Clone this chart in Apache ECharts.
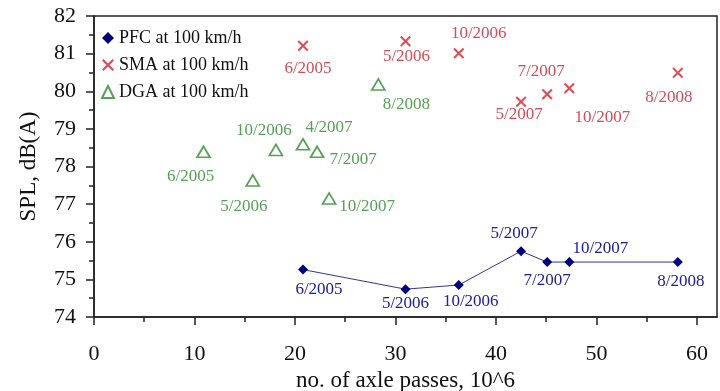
<!DOCTYPE html>
<html>
<head>
<meta charset="utf-8">
<script src="https://cdn.jsdelivr.net/npm/echarts@6/dist/echarts.min.js"></script>
<style>
  html, body { margin: 0; padding: 0; background: #fff; }
  #chart { width: 720px; height: 391px; }
</style>
</head>
<body>
<div id="chart"></div>
<script>
// values: x = axle passes (10^6), y = SPL dB(A)
var pfcDates = ['6/2005', '5/2006', '10/2006', '5/2007', '7/2007', '10/2007', '8/2008'];
var pfcX = [20.8, 31.0, 36.3, 42.5, 45.1, 47.3, 58.1];
var pfcY = [75.26, 74.74, 74.85, 75.75, 75.46, 75.46, 75.46];

var smaDates = ['6/2005', '5/2006', '10/2006', '5/2007', '7/2007', '10/2007', '8/2008'];
var smaX = [20.8, 31.0, 36.3, 42.5, 45.1, 47.3, 58.1];
var smaY = [81.21, 81.33, 81.01, 79.72, 79.92, 80.08, 80.49];

var dgaDates = ['6/2005', '5/2006', '10/2006', '4/2007', '7/2007', '10/2007', '8/2008'];
var dgaX = [10.9, 15.8, 18.1, 20.8, 22.2, 23.4, 28.3];
var dgaY = [78.39, 77.63, 78.44, 78.59, 78.39, 77.15, 80.18];

var seriesNames = ['PFC at 100 km/h', 'SMA at 100 km/h', 'DGA at 100 km/h'];
var xTickLabels = [0, 10, 20, 30, 40, 50, 60];
var xMinorTicks = [5, 15, 25, 35, 45, 55];

// label placement (px offsets from the marker), kept apart from the data
var pfcLabelOff = [[16, 20], [0, 14], [12, 17], [-7, -18], [0, 18], [31, -14], [3, 19]];
var smaLabelOff = [[5, 23], [1, 15], [20, -20], [-2, 13], [-6, -23], [33, 29], [-9, 25]];
var dgaLabelOff = [[-13, 25], [-9, 26], [-12, -19], [26, -17], [36, 8], [38, 8], [28, 20]];

var FONT = '"Liberation Serif", "Times New Roman", serif';
var NAVY = '#00007e';
var RED = '#d81e2a';
var GREEN = '#2a8a2a';
var CROSS = 'path://M0,1.3L1.3,0L5,3.7L8.7,0L10,1.3L6.3,5L10,8.7L8.7,10L5,6.3L1.3,10L0,8.7L3.7,5Z';

function points(xs, ys, names, offs) {
  return xs.map(function (x, i) {
    return { name: names[i], value: [x, ys[i]], label: { offset: offs[i] } };
  });
}

function labelStyle(color) {
  return {
    show: true,
    position: 'inside',
    formatter: '{b}',
    align: 'center',
    verticalAlign: 'middle',
    fontFamily: FONT,
    fontSize: 17,
    color: color
  };
}

var chart = echarts.init(document.getElementById('chart'), null, { renderer: 'canvas' });

var option = {
  animation: false,
  backgroundColor: '#fff',
  grid: {
    left: 94, right: 3, top: 16, bottom: 74,
    show: true,
    borderColor: '#222',
    borderWidth: 1.5,
    outerBoundsMode: 'none'
  },
  legend: {
    orient: 'vertical',
    left: 96,
    top: 24,
    itemWidth: 12,
    itemHeight: 12,
    itemGap: 9,
    textStyle: { fontFamily: FONT, fontSize: 18, color: '#111' },
    data: [
      { name: seriesNames[0], icon: 'diamond' },
      { name: seriesNames[1], icon: CROSS },
      { name: seriesNames[2], icon: 'triangle' }
    ]
  },
  xAxis: [{
    type: 'value',
    min: 0,
    max: 62,
    interval: 10,
    name: 'no. of axle passes, 10^6',
    nameLocation: 'middle',
    nameGap: 46,
    nameTextStyle: { fontFamily: FONT, fontSize: 23, color: '#111' },
    axisLine: { onZero: false, lineStyle: { color: '#222', width: 1.5 } },
    axisTick: { show: true, length: 8, customValues: xTickLabels, lineStyle: { color: '#222', width: 1.5 } },
    axisLabel: {
      customValues: xTickLabels,
      margin: 26,
      fontFamily: FONT, fontSize: 22, color: '#111'
    },
    splitLine: { show: false }
  }, {
    // only carries the short ticks between the labelled ones
    type: 'value',
    min: 0,
    max: 62,
    position: 'bottom',
    axisLine: { show: false },
    axisTick: { show: true, length: 5, customValues: xMinorTicks, lineStyle: { color: '#222', width: 1.5 } },
    axisLabel: { show: false },
    splitLine: { show: false }
  }],
  yAxis: {
    type: 'value',
    min: 74,
    max: 82,
    interval: 1,
    name: 'SPL, dB(A)',
    nameLocation: 'middle',
    nameGap: 54,
    nameTextStyle: { fontFamily: FONT, fontSize: 23, color: '#111' },
    axisLine: { show: true, lineStyle: { color: '#222', width: 1.5 } },
    axisTick: { show: true, length: 8, lineStyle: { color: '#222', width: 1.5 } },
    minorTick: { show: true, splitNumber: 2, length: 5, lineStyle: { color: '#222', width: 1.5 } },
    axisLabel: { margin: 18, fontFamily: FONT, fontSize: 22, color: '#111' },
    splitLine: { show: false }
  },
  series: [
    {
      name: seriesNames[0],
      type: 'line',
      symbol: 'diamond',
      symbolSize: 10,
      itemStyle: { color: NAVY },
      lineStyle: { color: NAVY, width: 0.8 },
      label: labelStyle('#20209a'),
      data: points(pfcX, pfcY, pfcDates, pfcLabelOff)
    },
    {
      name: seriesNames[1],
      type: 'scatter',
      symbol: CROSS,
      symbolSize: 11,
      itemStyle: { color: RED },
      label: labelStyle('#c8202c'),
      data: points(smaX, smaY, smaDates, smaLabelOff)
    },
    {
      name: seriesNames[2],
      type: 'scatter',
      symbol: 'triangle',
      symbolSize: [13, 11],
      itemStyle: { color: '#fff', borderColor: GREEN, borderWidth: 1.7 },
      label: labelStyle('#2c882c'),
      data: points(dgaX, dgaY, dgaDates, dgaLabelOff)
    }
  ]
};

chart.setOption(option);
</script>
</body>
</html>
